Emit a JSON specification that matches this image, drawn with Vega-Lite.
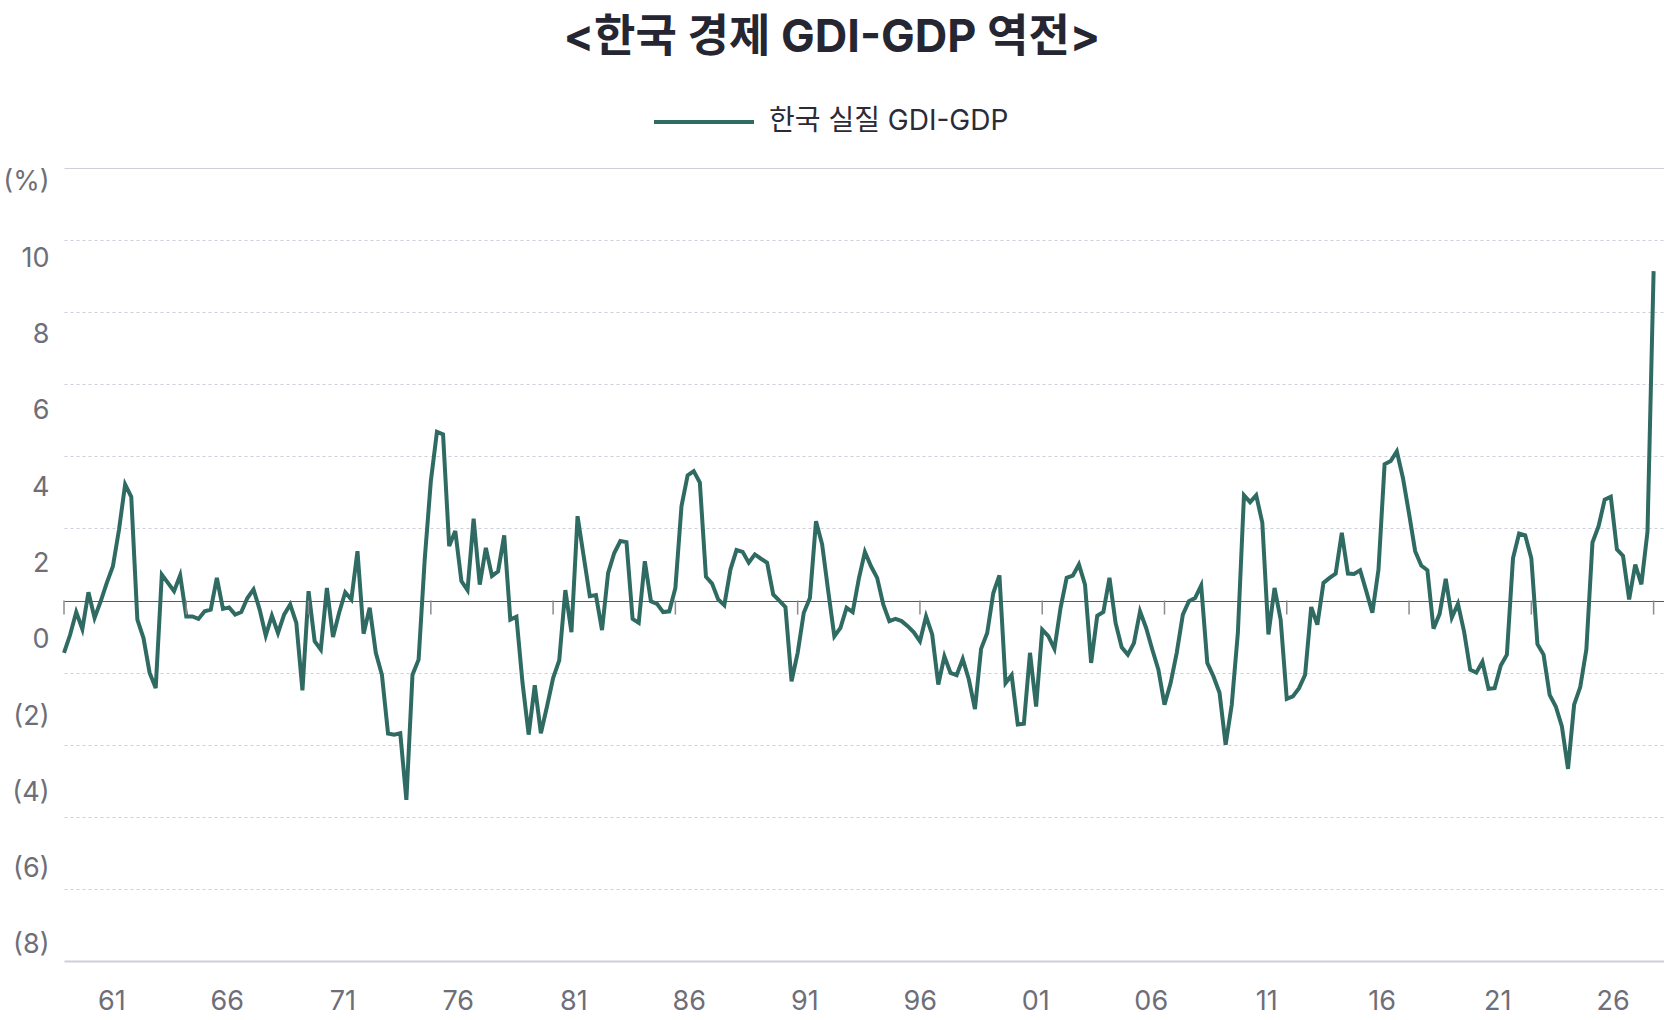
{
  "$schema": "https://vega.github.io/schema/vega-lite/v6.json",
  "width": 1600,
  "height": 793,
  "autosize": {"type": "none"},
  "padding": {"left": 64, "top": 168, "right": 0, "bottom": 59},
  "background": "white",
  "config": {
    "font": "Inter, Noto Sans CJK KR",
    "view": {"stroke": null}
  },
  "title": {
    "text": "<한국 경제 GDI-GDP 역전>",
    "fontSize": 45,
    "fontWeight": 700,
    "color": "#262633",
    "anchor": "middle",
    "dx": -32,
    "offset": 9
  },
  "data": {"values": [
    {"i":0,"v":-1.45},{"i":1,"v":-0.95},{"i":2,"v":-0.32},{"i":3,"v":-0.79},{"i":4,"v":0.23},{"i":5,"v":-0.48},{"i":6,"v":-0.02},{"i":7,"v":0.49},{"i":8,"v":0.95},{"i":9,"v":1.97},
    {"i":10,"v":3.22},{"i":11,"v":2.88},{"i":12,"v":-0.53},{"i":13,"v":-1.04},{"i":14,"v":-2.0},{"i":15,"v":-2.43},{"i":16,"v":0.72},{"i":17,"v":0.49},{"i":18,"v":0.26},{"i":19,"v":0.7},
    {"i":20,"v":-0.44},{"i":21,"v":-0.44},{"i":22,"v":-0.51},{"i":23,"v":-0.3},{"i":24,"v":-0.25},{"i":25,"v":0.63},{"i":26,"v":-0.23},{"i":27,"v":-0.19},{"i":28,"v":-0.39},{"i":29,"v":-0.32},
    {"i":30,"v":0.07},{"i":31,"v":0.31},{"i":32,"v":-0.25},{"i":33,"v":-0.97},{"i":34,"v":-0.42},{"i":35,"v":-0.9},{"i":36,"v":-0.39},{"i":37,"v":-0.11},{"i":38,"v":-0.62},{"i":39,"v":-2.49},
    {"i":40,"v":0.26},{"i":41,"v":-1.13},{"i":42,"v":-1.36},{"i":43,"v":0.35},{"i":44,"v":-1.01},{"i":45,"v":-0.34},{"i":46,"v":0.23},{"i":47,"v":0.03},{"i":48,"v":1.37},{"i":49,"v":-0.92},
    {"i":50,"v":-0.2},{"i":51,"v":-1.45},{"i":52,"v":-2.06},{"i":53,"v":-3.69},{"i":54,"v":-3.72},{"i":55,"v":-3.68},{"i":56,"v":-5.53},{"i":57,"v":-2.06},{"i":58,"v":-1.64},{"i":59,"v":1.14},
    {"i":60,"v":3.31},{"i":61,"v":4.68},{"i":62,"v":4.61},{"i":63,"v":1.51},{"i":64,"v":1.93},{"i":65,"v":0.54},{"i":66,"v":0.29},{"i":67,"v":2.27},{"i":68,"v":0.44},{"i":69,"v":1.46},
    {"i":70,"v":0.68},{"i":71,"v":0.81},{"i":72,"v":1.81},{"i":73,"v":-0.53},{"i":74,"v":-0.45},{"i":75,"v":-2.29},{"i":76,"v":-3.72},{"i":77,"v":-2.35},{"i":78,"v":-3.68},{"i":79,"v":-2.94},
    {"i":80,"v":-2.15},{"i":81,"v":-1.66},{"i":82,"v":0.29},{"i":83,"v":-0.88},{"i":84,"v":2.34},{"i":85,"v":1.23},{"i":86,"v":0.12},{"i":87,"v":0.15},{"i":88,"v":-0.82},{"i":89,"v":0.77},
    {"i":90,"v":1.32},{"i":91,"v":1.65},{"i":92,"v":1.62},{"i":93,"v":-0.51},{"i":94,"v":-0.62},{"i":95,"v":1.09},{"i":96,"v":-0.02},{"i":97,"v":-0.09},{"i":98,"v":-0.32},{"i":99,"v":-0.3},
    {"i":100,"v":0.35},{"i":101,"v":2.62},{"i":102,"v":3.47},{"i":103,"v":3.59},{"i":104,"v":3.27},{"i":105,"v":0.66},{"i":106,"v":0.47},{"i":107,"v":0.03},{"i":108,"v":-0.13},{"i":109,"v":0.86},
    {"i":110,"v":1.4},{"i":111,"v":1.35},{"i":112,"v":1.05},{"i":113,"v":1.28},{"i":114,"v":1.16},{"i":115,"v":1.05},{"i":116,"v":0.17},{"i":117,"v":0.0},{"i":118,"v":-0.18},{"i":119,"v":-2.24},
    {"i":120,"v":-1.45},{"i":121,"v":-0.34},{"i":122,"v":0.07},{"i":123,"v":2.2},{"i":124,"v":1.56},{"i":125,"v":0.26},{"i":126,"v":-0.99},{"i":127,"v":-0.76},{"i":128,"v":-0.2},{"i":129,"v":-0.32},
    {"i":130,"v":0.6},{"i":131,"v":1.35},{"i":132,"v":0.95},{"i":133,"v":0.63},{"i":134,"v":-0.11},{"i":135,"v":-0.57},{"i":136,"v":-0.51},{"i":137,"v":-0.57},{"i":138,"v":-0.71},{"i":139,"v":-0.88},
    {"i":140,"v":-1.13},{"i":141,"v":-0.44},{"i":142,"v":-0.94},{"i":143,"v":-2.33},{"i":144,"v":-1.55},{"i":145,"v":-2.01},{"i":146,"v":-2.07},{"i":147,"v":-1.62},{"i":148,"v":-2.19},{"i":149,"v":-3.01},
    {"i":150,"v":-1.34},{"i":151,"v":-0.9},{"i":152,"v":0.21},{"i":153,"v":0.7},{"i":154,"v":-2.29},{"i":155,"v":-2.07},{"i":156,"v":-3.44},{"i":157,"v":-3.42},{"i":158,"v":-1.45},{"i":159,"v":-2.94},
    {"i":160,"v":-0.81},{"i":161,"v":-0.99},{"i":162,"v":-1.34},{"i":163,"v":-0.2},{"i":164,"v":0.63},{"i":165,"v":0.69},{"i":166,"v":1.0},{"i":167,"v":0.44},{"i":168,"v":-1.73},{"i":169,"v":-0.42},
    {"i":170,"v":-0.32},{"i":171,"v":0.63},{"i":172,"v":-0.62},{"i":173,"v":-1.3},{"i":174,"v":-1.5},{"i":175,"v":-1.18},{"i":176,"v":-0.3},{"i":177,"v":-0.76},{"i":178,"v":-1.36},{"i":179,"v":-1.92},
    {"i":180,"v":-2.89},{"i":181,"v":-2.29},{"i":182,"v":-1.45},{"i":183,"v":-0.39},{"i":184,"v":-0.02},{"i":185,"v":0.07},{"i":186,"v":0.42},{"i":187,"v":-1.73},{"i":188,"v":-2.1},{"i":189,"v":-2.56},
    {"i":190,"v":-4.0},{"i":191,"v":-2.89},{"i":192,"v":-0.9},{"i":193,"v":2.92},{"i":194,"v":2.73},{"i":195,"v":2.92},{"i":196,"v":2.16},{"i":197,"v":-0.94},{"i":198,"v":0.35},{"i":199,"v":-0.53},
    {"i":200,"v":-2.73},{"i":201,"v":-2.66},{"i":202,"v":-2.43},{"i":203,"v":-2.06},{"i":204,"v":-0.18},{"i":205,"v":-0.67},{"i":206,"v":0.49},{"i":207,"v":0.63},{"i":208,"v":0.75},{"i":209,"v":1.88},
    {"i":210,"v":0.75},{"i":211,"v":0.74},{"i":212,"v":0.84},{"i":213,"v":0.26},{"i":214,"v":-0.34},{"i":215,"v":0.86},{"i":216,"v":3.78},{"i":217,"v":3.87},{"i":218,"v":4.14},{"i":219,"v":3.4},
    {"i":220,"v":2.41},{"i":221,"v":1.37},{"i":222,"v":0.97},{"i":223,"v":0.84},{"i":224,"v":-0.78},{"i":225,"v":-0.37},{"i":226,"v":0.6},{"i":227,"v":-0.47},{"i":228,"v":-0.09},{"i":229,"v":-0.86},
    {"i":230,"v":-1.92},{"i":231,"v":-2.0},{"i":232,"v":-1.7},{"i":233,"v":-2.45},{"i":234,"v":-2.43},{"i":235,"v":-1.8},{"i":236,"v":-1.5},{"i":237,"v":1.17},{"i":238,"v":1.86},{"i":239,"v":1.81},
    {"i":240,"v":1.17},{"i":241,"v":-1.21},{"i":242,"v":-1.5},{"i":243,"v":-2.62},{"i":244,"v":-2.94},{"i":245,"v":-3.49},{"i":246,"v":-4.67},{"i":247,"v":-2.89},{"i":248,"v":-2.4},{"i":249,"v":-1.36},
    {"i":250,"v":1.61},{"i":251,"v":2.06},{"i":252,"v":2.8},{"i":253,"v":2.88},{"i":254,"v":1.42},{"i":255,"v":1.24},{"i":256,"v":0.03},{"i":257,"v":1.0},{"i":258,"v":0.45},{"i":259,"v":1.91},
    {"i":260,"v":9.14}
  ]},
  "layer": [
    {
      "mark": {"type": "line", "strokeWidth": 4},
      "encoding": {
        "x": {
          "field": "i", "type": "quantitative",
          "scale": {"domain": [0, 261.7], "nice": false, "zero": false},
          "axis": {
            "values": [7.74, 26.63, 45.52, 64.41, 83.3, 102.19, 121.08, 139.97, 158.86, 177.75, 196.64, 215.53, 234.42, 253.31],
            "labelExpr": "['61','66','71','76','81','86','91','96','01','06','11','16','21','26'][round((datum.value - 7.74) / 18.89)]",
            "title": null, "ticks": false, "domain": false, "grid": false,
            "labelFontSize": 27, "labelColor": "#6e6e78", "labelPadding": 27,
            "labelFlush": false, "labelOverlap": false
          }
        },
        "y": {
          "field": "v", "type": "quantitative",
          "scale": {"domain": [-10, 12], "nice": false, "zero": false},
          "axis": {
            "orient": "left",
            "values": [-10, -8, -6, -4, -2, 0, 2, 4, 6, 8, 10, 12],
            "title": null, "labels": false, "ticks": false, "domain": false, "grid": true,
            "gridColor": {"condition": {"test": "datum.value === 0", "value": "#5a5a5e"}, "value": "#cdd0da"},
            "gridDash": {"condition": {"test": "datum.value === 0 || datum.value === 12 || datum.value === -10", "value": []}, "value": [3, 3]},
            "gridWidth": {"condition": {"test": "datum.value === -10", "value": 2}, "value": 1.2}
          }
        },
        "color": {
          "datum": "한국 실질 GDI-GDP", "type": "nominal",
          "scale": {"range": ["#2f6b63"]},
          "legend": {
            "orient": "none", "legendX": 588, "legendY": -98,
            "title": null, "symbolType": "stroke", "symbolSize": 10000, "symbolStrokeWidth": 4,
            "labelFontSize": 28, "labelColor": "#2b2b36", "labelOffset": 13, "labelLimit": 500,
            "encode": {"symbols": {"update": {"stroke": {"value": "#0d6b5b"}}}}
          }
        }
      }
    },
    {
      "data": {"values": [
        {"i":0},{"i":20},{"i":40},{"i":60},{"i":80},{"i":100},{"i":120},
        {"i":140},{"i":160},{"i":180},{"i":200},{"i":220},{"i":240},{"i":260}
      ]},
      "mark": {"type": "rule", "color": "#8c8c90", "strokeWidth": 1.5},
      "encoding": {
        "x": {
          "field": "i", "type": "quantitative",
          "scale": {"domain": [0, 261.7], "nice": false, "zero": false},
          "axis": {
            "values": [7.74, 26.63, 45.52, 64.41, 83.3, 102.19, 121.08, 139.97, 158.86, 177.75, 196.64, 215.53, 234.42, 253.31],
            "labelExpr": "['61','66','71','76','81','86','91','96','01','06','11','16','21','26'][round((datum.value - 7.74) / 18.89)]",
            "title": null, "ticks": false, "domain": false, "grid": false,
            "labelFontSize": 27, "labelColor": "#6e6e78", "labelPadding": 27,
            "labelFlush": false, "labelOverlap": false
          }
        },
        "y": {"datum": 0, "type": "quantitative", "scale": {"domain": [-10, 12], "nice": false, "zero": false}, "axis": null},
        "y2": {"datum": -0.39}
      }
    },
    {
      "data": {"values": [{}]},
      "mark": {"type": "rule", "opacity": 0},
      "encoding": {
        "y": {
          "datum": 0, "type": "quantitative",
          "scale": {"domain": [-8.42, 12.36], "nice": false, "zero": false},
          "axis": {
            "orient": "left",
            "values": [-8, -6, -4, -2, 0, 2, 4, 6, 8, 10, 12],
            "labelExpr": "datum.value === 12 ? '(%)' : (datum.value < 0 ? '(' + (-datum.value) + ')' : '' + datum.value)",
            "title": null, "ticks": false, "tickSize": 0, "domain": false, "grid": false,
            "labelFontSize": 27, "labelColor": "#6e6e78", "labelPadding": 15,
            "labelFlush": false, "labelOverlap": false, "labelBound": false
          }
        }
      }
    }
  ],
  "resolve": {"scale": {"y": "independent"}}
}
